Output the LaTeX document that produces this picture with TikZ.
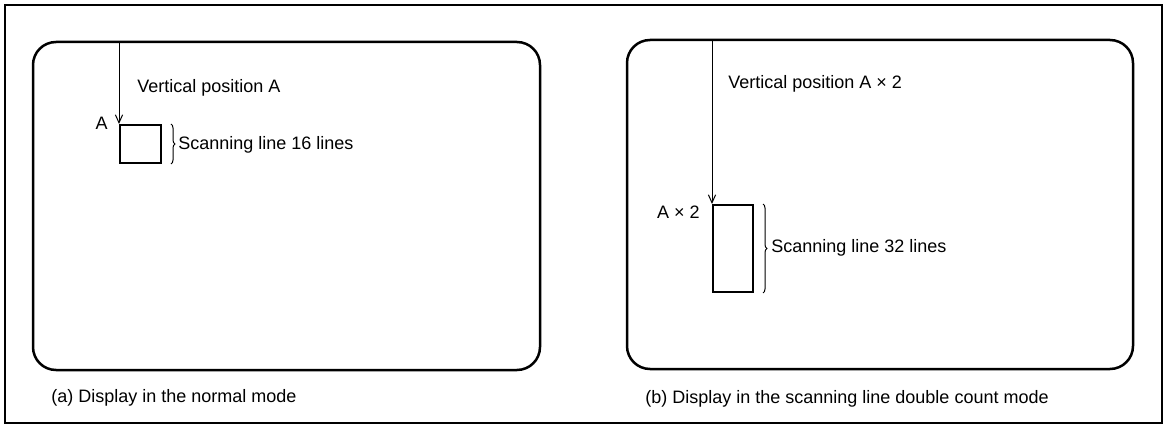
\documentclass[tikz,border=0pt]{standalone}
\usepackage{fontspec}
\setmainfont{Liberation Sans}
\usetikzlibrary{arrows.meta,decorations.pathreplacing}
\tikzset{
  panel/.style={line width=1.25pt, rounded corners=11.5pt},
  scanbox/.style={draw, line width=1pt, inner sep=0pt, anchor=north west},
  posarrow/.style={line width=0.5pt, -{Straight Barb[length=4pt, width=3.6pt, line width=0.5pt]}},
  linebrace/.style={decorate, decoration={brace, amplitude=2pt}, line width=0.5pt},
  lbl/.style={inner sep=0pt}
}
\begin{document}
\begin{tikzpicture}[x=0.5pt, y=-0.5pt, font=\fontsize{9}{11}\selectfont]
  \useasboundingbox (0,0) rectangle (1167,427);
  \draw[line width=1.2pt] (5,5) rectangle (1162,423);
  \draw[panel] (33,42) rectangle (540,370);
  \draw[panel] (627,40) rectangle (1133,369);
  \node[scanbox, minimum width=20.5pt, minimum height=19pt] (boxa) at (119,124) {};
  \node[scanbox, minimum width=20pt, minimum height=43.5pt] (boxb) at (712,204) {};
  \coordinate (topa) at (119,42);
  \coordinate (topb) at (712,40);
  \draw[posarrow] (topa) -- (boxa.north west);
  \draw[posarrow] (topb) -- (boxb.north west);
  \draw[linebrace] ([xshift=4.5pt]boxa.north east) -- ([xshift=4.5pt]boxa.south east);
  \draw[linebrace] ([xshift=4.5pt]boxb.north east) -- ([xshift=4.5pt]boxb.south east);
  \node[lbl, anchor=base west] (posa) at (137,93) {Vertical position A};
  \node[lbl, anchor=base east] (marka) at (108,130) {A};
  \node[lbl, anchor=base west] (linesa) at (178,150) {Scanning line 16 lines};
  \node[lbl, anchor=base west] (capa) at (51,402) {(a) Display in the normal mode};
  \node[lbl, anchor=base west] (posb) at (728,89) {Vertical position A × 2};
  \node[lbl, anchor=base east] (markb) at (700,219) {A × 2};
  \node[lbl, anchor=base west] (linesb) at (771,253) {Scanning line 32 lines};
  \node[lbl, anchor=base west] (capb) at (645,403) {(b) Display in the scanning line double count mode};
\end{tikzpicture}
\end{document}
